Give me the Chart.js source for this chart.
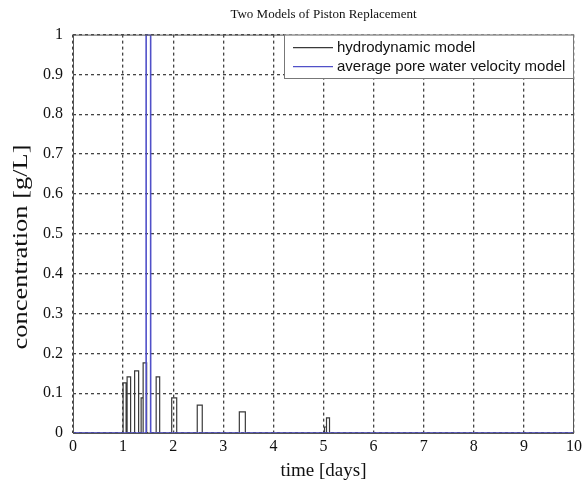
<!DOCTYPE html>
<html>
<head>
<meta charset="utf-8">
<script src="https://cdn.jsdelivr.net/npm/chart.js@4.4.0/dist/chart.umd.min.js"></script>
<style>
  html, body { margin: 0; padding: 0; background: #fff; }
  #wrap { width: 586px; height: 486px; }
</style>
</head>
<body>
<div id="wrap"><canvas id="pistonChart" width="586" height="486"></canvas></div>
<script>
// hydrodynamic model: rectangular pulses (start day, end day, concentration g/L)
const hydroStart = [1.00, 1.08, 1.23, 1.36, 1.40, 1.66, 1.97, 2.48, 3.32, 5.02, 5.06];
const hydroEnd   = [1.06, 1.15, 1.31, 1.40, 1.47, 1.73, 2.07, 2.58, 3.44, 5.06, 5.12];
const hydroPeak  = [0.126, 0.141, 0.156, 0.088, 0.176, 0.141, 0.088, 0.070, 0.053, 0.015, 0.038];

// average pore water velocity model: one pulse
const poreStart = [1.46];
const poreEnd   = [1.55];
const porePeak  = [1.0];

const timeRange = [0, 10];
const legendLabels = ['hydrodynamic model', 'average pore water velocity model'];
const yTitle = 'concentration [g/L]';

// turn pulses into a step line
function pulsesToPoints(starts, ends, peaks) {
  var pts = [{x: timeRange[0], y: 0}];
  for (var i = 0; i < starts.length; i++) {
    pts.push({x: starts[i], y: 0});
    pts.push({x: starts[i], y: peaks[i]});
    pts.push({x: ends[i], y: peaks[i]});
    pts.push({x: ends[i], y: 0});
  }
  pts.push({x: timeRange[1], y: 0});
  return pts;
}

const hydroColor = '#3a3a3a';
const poreColor = '#5050c8';
const serif = '"Liberation Serif", "Times New Roman", serif';

// frame round the plot, legend box, and the (stretched) y title
const frameAndLegend = {
  id: 'frameAndLegend',
  afterDraw: function(chart) {
    const c = chart.ctx;
    const a = chart.chartArea;
    c.save();
    c.strokeStyle = '#555';
    c.lineWidth = 1;
    c.setLineDash([]);
    c.strokeRect(a.left + 0.5, a.top + 0.5, a.right - a.left - 1, a.bottom - a.top);

    const boxL = 284, boxT = a.top, boxR = a.right, boxB = 78;
    c.fillStyle = '#fff';
    c.fillRect(boxL, boxT, boxR - boxL, boxB - boxT);
    c.strokeStyle = '#777';
    c.strokeRect(boxL + 0.5, boxT + 0.5, boxR - boxL - 1, boxB - boxT);

    const colors = [hydroColor, poreColor];
    c.font = '15px "Liberation Sans", Arial, sans-serif';
    c.textBaseline = 'middle';
    for (var i = 0; i < legendLabels.length; i++) {
      const y = boxT + 13 + i * 19;
      c.strokeStyle = colors[i];
      c.lineWidth = 1.4;
      c.beginPath();
      c.moveTo(293, y);
      c.lineTo(333, y);
      c.stroke();
      c.fillStyle = '#111';
      c.fillText(legendLabels[i], 337, y);
    }

    // y axis title, the original figure was stretched vertically
    c.font = '20px ' + serif;
    c.fillStyle = '#111';
    c.textAlign = 'center';
    c.textBaseline = 'middle';
    const w = c.measureText(yTitle).width;
    c.translate(22, 247);
    c.rotate(-Math.PI / 2);
    c.scale(205 / w, 1);
    c.fillText(yTitle, 0, 0);
    c.restore();
  }
};

const ctx = document.getElementById('pistonChart');
var myChart = new Chart(ctx, {
  type: 'scatter',
  data: {
    datasets: [{
      label: legendLabels[1],
      data: pulsesToPoints(poreStart, poreEnd, porePeak),
      showLine: true,
      borderColor: poreColor,
      borderWidth: 1.6,
      pointRadius: 0,
      tension: 0,
      fill: false
    }, {
      label: legendLabels[0],
      data: pulsesToPoints(hydroStart, hydroEnd, hydroPeak),
      showLine: true,
      borderColor: hydroColor,
      borderWidth: 1.2,
      pointRadius: 0,
      tension: 0,
      fill: false
    }]
  },
  options: {
    responsive: false,
    animation: false,
    layout: { padding: { left: 0, right: 10, top: 0, bottom: 0 } },
    plugins: {
      legend: { display: false },
      tooltip: { enabled: false },
      title: {
        display: true,
        fullSize: false,
        text: 'Two Models of Piston Replacement',
        color: '#111',
        font: { family: serif, size: 13, weight: 'normal' },
        padding: { top: 7, bottom: 12 }
      }
    },
    scales: {
      x: {
        type: 'linear',
        min: timeRange[0],
        max: timeRange[1],
        afterFit: function(scale) { scale.height = 53; },
        ticks: {
          stepSize: 1,
          padding: 4,
          color: '#111',
          font: { family: serif, size: 16 }
        },
        grid: { color: '#444', lineWidth: 1.3, drawTicks: false },
        border: { display: false, dash: [3, 3] },
        title: {
          display: true,
          text: 'time [days]',
          color: '#111',
          font: { family: serif, size: 19 },
          padding: { top: 0, bottom: 4 }
        }
      },
      y: {
        min: 0,
        max: 1,
        afterFit: function(scale) { scale.width = 73; },
        ticks: {
          stepSize: 0.1,
          padding: 10,
          color: '#111',
          font: { family: serif, size: 16 },
          callback: function(value) { return String(Math.round(value * 10) / 10); }
        },
        grid: { color: '#444', lineWidth: 1.3, drawTicks: false },
        border: { display: false, dash: [3, 3] },
        title: { display: false }
      }
    }
  },
  plugins: [frameAndLegend]
});
</script>
</body>
</html>
